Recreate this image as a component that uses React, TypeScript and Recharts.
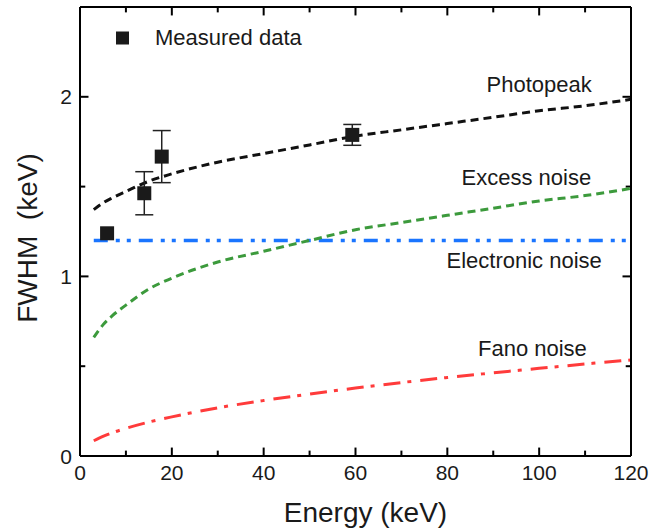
import React from 'react';
import { ComposedChart, Line, Scatter, XAxis, YAxis, ErrorBar, ReferenceLine } from 'recharts';

const energies = [3, 5, 7, 10, 15, 20, 30, 40, 50, 60, 70, 80, 90, 100, 110, 120];
const photopeak = [1.372, 1.409, 1.437, 1.473, 1.53, 1.571, 1.636, 1.684, 1.732, 1.781, 1.816, 1.851, 1.886, 1.922, 1.95, 1.986];
const excessNoise = [0.66, 0.73, 0.78, 0.84, 0.93, 0.99, 1.08, 1.14, 1.2, 1.26, 1.3, 1.34, 1.38, 1.42, 1.45, 1.49];
const electronicNoise = [1.2, 1.2, 1.2, 1.2, 1.2, 1.2, 1.2, 1.2, 1.2, 1.2, 1.2, 1.2, 1.2, 1.2, 1.2, 1.2];
const fanoNoise = [0.085, 0.109, 0.129, 0.154, 0.189, 0.218, 0.268, 0.309, 0.345, 0.378, 0.409, 0.437, 0.463, 0.488, 0.512, 0.535];

const measuredEnergy = [5.9, 14.0, 17.8, 59.3];
const measuredFwhm = [1.24, 1.463, 1.667, 1.788];
const measuredErr = [0, 0.12, 0.145, 0.058];

const xTicks = [0, 10, 20, 30, 40, 50, 60, 70, 80, 90, 100, 110, 120];
const yTicks = [0, 0.5, 1, 1.5, 2, 2.5];
const xLabelTicks = [0, 20, 40, 60, 80, 100, 120];
const yLabelTicks = [0, 1, 2];

const X_MIN = 0;
const X_MAX = 120;
const Y_MIN = 0;
const Y_MAX = 2.5;
// inward tick lengths expressed in axis units (major / minor)
const X_TICK_LEN = [0.047, 0.03];
const Y_TICK_LEN = [1.85, 1.15];

const curveData = energies.map((e, i) => ({
  energy: e,
  photopeak: photopeak[i],
  excess: excessNoise[i],
  electronic: electronicNoise[i],
  fano: fanoNoise[i],
}));

const measuredData = measuredEnergy.map((e, i) => ({
  energy: e,
  fwhm: measuredFwhm[i],
  err: measuredErr[i],
}));

const FONT = '"Liberation Sans", Arial, Helvetica, sans-serif';
const TXT = '#1a1a1a';

const BottomTick = (props: any) => {
  const { x, y, payload } = props;
  const v = payload.value;
  if (!xLabelTicks.includes(v)) return <g />;
  return (
    <text x={x} y={y + 24} textAnchor="middle" fontSize={21} fill={TXT} fontFamily={FONT} stroke="none">
      {v}
    </text>
  );
};

const LeftTick = (props: any) => {
  const { x, y, payload } = props;
  const v = payload.value;
  if (!yLabelTicks.includes(v)) return <g />;
  return (
    <text x={x - 8} y={y + 7.5} textAnchor="end" fontSize={21} fill={TXT} fontFamily={FONT} stroke="none">
      {v}
    </text>
  );
};

const NoTick = () => <g />;

const Square = (p: any) => {
  if (p.cx == null || p.cy == null) return null;
  return <rect x={p.cx - 7} y={p.cy - 7} width={14} height={14} fill="#1a1a1a" />;
};

const XTitle = (props: any) => {
  const vb = props.viewBox || {};
  return (
    <text x={vb.x + vb.width / 2 + 10} y={vb.y + 66} textAnchor="middle" fontSize={28} fill={TXT} fontFamily={FONT}>
      Energy (keV)
    </text>
  );
};

const YTitle = (props: any) => {
  const vb = props.viewBox || {};
  const cx = vb.x + 37;
  const cy = vb.y + vb.height / 2 + 6.5;
  return (
    <text
      x={cx}
      y={cy}
      transform={`rotate(-90, ${cx}, ${cy})`}
      textAnchor="middle"
      fontSize={28}
      fill={TXT}
      fontFamily={FONT}
      style={{ whiteSpace: 'pre' }}
    >
      {'FWHM  (keV)'}
    </text>
  );
};

const labelStyle = { fontFamily: FONT, fontSize: 22, fill: TXT } as const;
const axisLine = { stroke: '#000', strokeWidth: 2 };

const tickSegments: { key: string; seg: { x: number; y: number }[] }[] = [];
xTicks.forEach((t) => {
  const len = xLabelTicks.includes(t) ? X_TICK_LEN[0] : X_TICK_LEN[1];
  tickSegments.push({ key: `b${t}`, seg: [{ x: t, y: Y_MIN }, { x: t, y: Y_MIN + len }] });
  tickSegments.push({ key: `t${t}`, seg: [{ x: t, y: Y_MAX }, { x: t, y: Y_MAX - len }] });
});
yTicks.forEach((t) => {
  const len = yLabelTicks.includes(t) ? Y_TICK_LEN[0] : Y_TICK_LEN[1];
  tickSegments.push({ key: `l${t}`, seg: [{ x: X_MIN, y: t }, { x: X_MIN + len, y: t }] });
  tickSegments.push({ key: `r${t}`, seg: [{ x: X_MAX, y: t }, { x: X_MAX - len, y: t }] });
});

export default function App() {
  return (
    <div style={{ position: 'absolute', left: 0, top: 0, width: 652, height: 531, background: '#fff' }}>
      <svg
        width={652}
        height={531}
        style={{ position: 'absolute', left: 0, top: 0, pointerEvents: 'none' }}
      >
        <rect x={116} y={31.5} width={13} height={13} fill="#1a1a1a" />
        <text x={155} y={45} {...labelStyle}>Measured data</text>
        <text x={486.5} y={92} {...labelStyle}>Photopeak</text>
        <text x={461.5} y={185} {...labelStyle}>Excess noise</text>
        <text x={446.5} y={268} {...labelStyle}>Electronic noise</text>
        <text x={478} y={356} {...labelStyle}>Fano noise</text>
      </svg>
      <ComposedChart
        width={652}
        height={531}
        data={curveData}
        margin={{ top: 6, right: 20, bottom: 0, left: 0 }}
      >
        <XAxis
          xAxisId="bottom"
          dataKey="energy"
          type="number"
          domain={[X_MIN, X_MAX]}
          ticks={xTicks}
          interval={0}
          height={75}
          tickSize={0}
          tickMargin={0}
          tickLine={false}
          axisLine={axisLine}
          tick={<BottomTick />}
          label={XTitle}
        />
        <XAxis
          xAxisId="top"
          orientation="top"
          dataKey="energy"
          type="number"
          domain={[X_MIN, X_MAX]}
          ticks={xTicks}
          interval={0}
          height={1}
          tickSize={0}
          tickMargin={0}
          tickLine={false}
          axisLine={axisLine}
          tick={<NoTick />}
        />
        <YAxis
          yAxisId="left"
          type="number"
          domain={[Y_MIN, Y_MAX]}
          ticks={yTicks}
          interval={0}
          width={80}
          tickSize={0}
          tickMargin={0}
          tickLine={false}
          axisLine={axisLine}
          tick={<LeftTick />}
          label={YTitle}
        />
        <YAxis
          yAxisId="right"
          orientation="right"
          type="number"
          domain={[Y_MIN, Y_MAX]}
          ticks={yTicks}
          interval={0}
          width={1}
          tickSize={0}
          tickMargin={0}
          tickLine={false}
          axisLine={axisLine}
          tick={<NoTick />}
        />
        {tickSegments.map((s) => (
          <ReferenceLine
            key={s.key}
            xAxisId="bottom"
            yAxisId="left"
            segment={s.seg}
            stroke="#000"
            strokeWidth={2}
            ifOverflow="visible"
          />
        ))}
        <Line
          xAxisId="bottom"
          yAxisId="left"
          type="monotone"
          dataKey="fano"
          stroke="#ff3b3b"
          strokeWidth={3}
          strokeDasharray="17 7 4 9"
          dot={false}
          isAnimationActive={false}
        />
        <Line
          xAxisId="bottom"
          yAxisId="left"
          type="monotone"
          dataKey="electronic"
          stroke="#1a75ff"
          strokeWidth={3.5}
          strokeDasharray="14 8 4 7 4 8"
          dot={false}
          isAnimationActive={false}
        />
        <Line
          xAxisId="bottom"
          yAxisId="left"
          type="monotone"
          dataKey="excess"
          stroke="#3c9a3c"
          strokeWidth={3}
          strokeDasharray="8 5"
          dot={false}
          isAnimationActive={false}
        />
        <Line
          xAxisId="bottom"
          yAxisId="left"
          type="monotone"
          dataKey="photopeak"
          stroke="#111"
          strokeWidth={3}
          strokeDasharray="8 5"
          dot={false}
          isAnimationActive={false}
        />
        <Scatter
          xAxisId="bottom"
          yAxisId="left"
          data={measuredData}
          dataKey="fwhm"
          shape={Square}
          isAnimationActive={false}
        >
          <ErrorBar dataKey="err" direction="y" width={9} strokeWidth={1.5} stroke="#222" isAnimationActive={false} />
        </Scatter>
      </ComposedChart>
    </div>
  );
}
